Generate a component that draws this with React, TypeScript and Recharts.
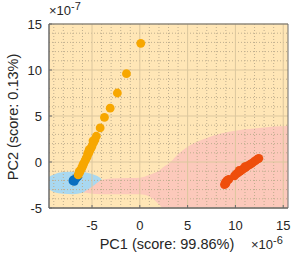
import React from 'react';
import { ComposedChart, Area, Scatter, XAxis, YAxis, CartesianGrid, ReferenceLine } from 'recharts';

const xTicks = [-5, 0, 5, 10, 15];
const yTicks = [-5, 0, 5, 10, 15];
const xMinor = [-9, -8, -7, -6, -4, -3, -2, -1, 1, 2, 3, 4, 6, 7, 8, 9, 11, 12, 13, 14];
const yMinor = [-4, -3, -2, -1, 1, 2, 3, 4, 6, 7, 8, 9, 11, 12, 13, 14];
const xBox = [-9.5, 15.5];
const yBox = [-5, 15];

const blueRegion = [
  { x: -9.5, r: [-3.0, -1.6] },
  { x: -9.0, r: [-3.25, -1.35] },
  { x: -8.0, r: [-3.45, -1.1] },
  { x: -7.0, r: [-3.5, -1.05] },
  { x: -6.0, r: [-3.35, -1.1] },
  { x: -5.0, r: [-2.9, -1.3] },
  { x: -4.4, r: [-2.3, -1.55] },
  { x: -4.0, r: [-1.9, -1.85] },
];

const pinkRegion = [
  { x: -5.9, r: [-3.3, -3.3] },
  { x: -5.0, r: [-3.45, -2.7] },
  { x: -4.0, r: [-3.5, -1.95] },
  { x: -3.0, r: [-3.5, -1.8] },
  { x: -1.0, r: [-3.5, -1.75] },
  { x: 0.0, r: [-3.5, -1.7] },
  { x: 1.0, r: [-3.75, -1.4] },
  { x: 1.5, r: [-4.1, -1.2] },
  { x: 2.0, r: [-4.6, -0.95] },
  { x: 2.4, r: [-5.0, -0.6] },
  { x: 3.0, r: [-5.0, -0.2] },
  { x: 4.0, r: [-5.0, 0.85] },
  { x: 5.0, r: [-5.0, 1.65] },
  { x: 6.0, r: [-5.0, 2.2] },
  { x: 7.0, r: [-5.0, 2.6] },
  { x: 8.0, r: [-5.0, 2.95] },
  { x: 9.0, r: [-5.0, 3.2] },
  { x: 10.0, r: [-5.0, 3.4] },
  { x: 11.0, r: [-5.0, 3.55] },
  { x: 12.0, r: [-5.0, 3.65] },
  { x: 13.0, r: [-5.0, 3.75] },
  { x: 14.0, r: [-5.0, 3.85] },
  { x: 15.5, r: [-5.0, 3.95] },
];

const blueScores = [
  { x: -7.0, y: -2.05 },
  { x: -6.95, y: -1.95 },
  { x: -6.8, y: -1.9 },
  { x: -6.65, y: -1.75 },
  { x: -6.5, y: -1.6 },
  { x: -6.85, y: -2.1 },
];

const orangeScores = [
  { x: 0.1, y: 12.9 },
  { x: -1.4, y: 9.6 },
  { x: -2.35, y: 7.5 },
  { x: -3.1, y: 5.85 },
  { x: -3.7, y: 4.85 },
  { x: -4.15, y: 3.7 },
  { x: -4.55, y: 2.8 },
  { x: -4.7, y: 2.4 },
  { x: -4.85, y: 2.1 },
  { x: -4.9, y: 2.3 },
  { x: -5.0, y: 1.75 },
  { x: -5.1, y: 1.5 },
  { x: -5.25, y: 1.2 },
  { x: -5.3, y: 1.35 },
  { x: -5.35, y: 0.95 },
  { x: -5.45, y: 0.95 },
  { x: -5.5, y: 0.6 },
  { x: -5.6, y: 0.4 },
  { x: -5.7, y: 0.2 },
  { x: -5.8, y: 0.0 },
  { x: -5.9, y: -0.25 },
  { x: -5.95, y: -0.3 },
  { x: -6.0, y: -0.5 },
  { x: -6.1, y: -0.7 },
  { x: -6.2, y: -0.9 },
  { x: -6.3, y: -1.15 },
  { x: -6.35, y: -1.05 },
  { x: -6.45, y: -1.4 },
];

const redScores = [
  { x: 8.85, y: -2.45 },
  { x: 9.0, y: -2.35 },
  { x: 8.95, y: -2.2 },
  { x: 9.15, y: -2.0 },
  { x: 9.3, y: -1.9 },
  { x: 9.9, y: -1.5 },
  { x: 10.1, y: -1.3 },
  { x: 10.3, y: -1.15 },
  { x: 10.4, y: -0.9 },
  { x: 10.5, y: -1.0 },
  { x: 10.7, y: -0.85 },
  { x: 10.9, y: -0.7 },
  { x: 11.0, y: -0.5 },
  { x: 11.1, y: -0.55 },
  { x: 11.3, y: -0.4 },
  { x: 11.5, y: -0.3 },
  { x: 11.7, y: -0.15 },
  { x: 11.9, y: 0.0 },
  { x: 12.1, y: 0.15 },
  { x: 12.3, y: 0.3 },
  { x: 12.45, y: 0.4 },
];

const font = '"Liberation Sans", Arial, Helvetica, sans-serif';
const axisColor = '#6a6a6a';
const textColor = '#262626';
const minorColor = '#BFAE8E';
const majorColor = '#DCC79E';

const dot = (color: string) => (props: any) => (
  <circle cx={props.cx} cy={props.cy} r={4.4} fill={color} />
);

export default function App() {
  return (
    <div style={{ position: 'absolute', left: 0, top: 0, width: 296, height: 258, background: '#fff', fontFamily: font }}>
      <ComposedChart width={296} height={258} margin={{ top: 24, right: 8, bottom: 0, left: 0 }}>
        <CartesianGrid horizontal={false} vertical={false} fill="#FFE6B6" fillOpacity={1} stroke="none" />
        <XAxis
          xAxisId={0}
          dataKey="x"
          type="number"
          domain={[-9.5, 15.5]}
          ticks={xTicks}
          allowDataOverflow
          height={50}
          tickSize={-3}
          tickMargin={16}
          stroke={axisColor}
          tick={{ fill: textColor, fontSize: 13, fontFamily: font }}
        />
        <XAxis
          xAxisId="top"
          orientation="top"
          type="number"
          domain={[-9.5, 15.5]}
          ticks={xTicks}
          allowDataOverflow
          height={0}
          tickSize={-3}
          tickFormatter={() => ''}
          stroke={axisColor}
        />
        <YAxis
          yAxisId={0}
          type="number"
          domain={[-5, 15]}
          ticks={yTicks}
          allowDataOverflow
          width={49}
          tickSize={-3}
          tickMargin={10}
          stroke={axisColor}
          tick={{ fill: textColor, fontSize: 13, fontFamily: font }}
        />
        <YAxis
          yAxisId="right"
          orientation="right"
          type="number"
          domain={[-5, 15]}
          ticks={yTicks}
          allowDataOverflow
          width={0}
          tickSize={-3}
          tickFormatter={() => ''}
          stroke={axisColor}
        />
        <Area
          data={blueRegion}
          dataKey="r"
          type="monotone"
          stroke="none"
          fill="#A9D8F0"
          fillOpacity={1}
          isAnimationActive={false}
          activeDot={false}
          dot={false}
        />
        <Area
          data={pinkRegion}
          dataKey="r"
          type="monotone"
          stroke="none"
          fill="#FCC9BB"
          fillOpacity={1}
          isAnimationActive={false}
          activeDot={false}
          dot={false}
        />
        {xMinor.map((v) => (
          <ReferenceLine key={'mx' + v} x={v} stroke={minorColor} strokeDasharray="1 2" strokeWidth={1} zIndex={450} />
        ))}
        {yMinor.map((v) => (
          <ReferenceLine key={'my' + v} y={v} stroke={minorColor} strokeDasharray="1 2" strokeWidth={1} zIndex={450} />
        ))}
        {xTicks.map((v) => (
          <ReferenceLine key={'vx' + v} x={v} stroke={majorColor} strokeWidth={1} zIndex={460} />
        ))}
        {yTicks.map((v) => (
          <ReferenceLine key={'hy' + v} y={v} stroke={majorColor} strokeWidth={1} zIndex={460} />
        ))}
        {xBox.map((v) => (
          <ReferenceLine key={'bx' + v} x={v} stroke={axisColor} strokeWidth={1} ifOverflow="visible" zIndex={470} />
        ))}
        {yBox.map((v) => (
          <ReferenceLine key={'by' + v} y={v} stroke={axisColor} strokeWidth={1} ifOverflow="visible" zIndex={470} />
        ))}
        <Scatter data={blueScores} dataKey="y" shape={dot('#0A6EBF')} isAnimationActive={false} zIndex={800} />
        <Scatter data={orangeScores} dataKey="y" shape={dot('#F7A700')} isAnimationActive={false} zIndex={800} />
        <Scatter data={redScores} dataKey="y" shape={dot('#EE4E0C')} isAnimationActive={false} zIndex={800} />
      </ComposedChart>
      <div style={{ position: 'absolute', left: 49, top: 4, fontSize: 13, color: textColor, whiteSpace: 'nowrap', lineHeight: '14px' }}>
        ×10<sup style={{ fontSize: 11, verticalAlign: 'top', position: 'relative', top: -5 }}>-7</sup>
      </div>
      <div style={{ position: 'absolute', left: 251, top: 238, fontSize: 13, color: textColor, whiteSpace: 'nowrap', lineHeight: '14px' }}>
        ×10<sup style={{ fontSize: 11, verticalAlign: 'top', position: 'relative', top: -5 }}>-6</sup>
      </div>
      <div style={{ position: 'absolute', left: 167, top: 236, transform: 'translateX(-50%)', fontSize: 14.5, color: textColor, whiteSpace: 'nowrap', lineHeight: '16px' }}>
        PC1 (score: 99.86%)
      </div>
      <div style={{ position: 'absolute', left: 13, top: 117, transform: 'translate(-50%, -50%) rotate(-90deg)', fontSize: 14.5, color: textColor, whiteSpace: 'nowrap', lineHeight: '16px' }}>
        PC2 (score: 0.13%)
      </div>
    </div>
  );
}
